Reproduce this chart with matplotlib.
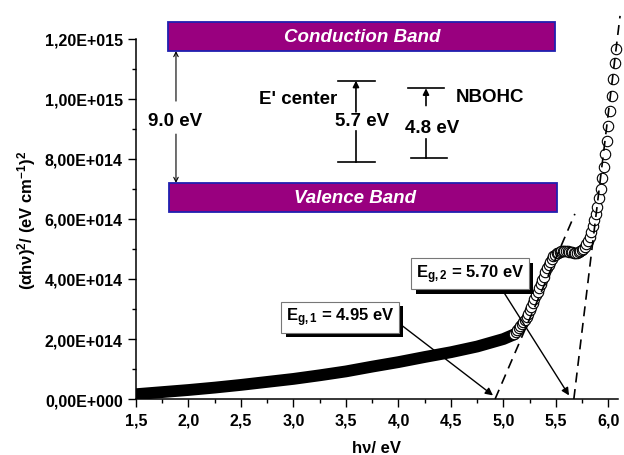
import numpy as np
import matplotlib
matplotlib.use('Agg')
import matplotlib.pyplot as plt
import matplotlib.ticker as mticker
from matplotlib.patches import Rectangle
import matplotlib.patheffects as pe

# ── fonts (Arial-like, bold, Origin style)
plt.rcParams['font.family'] = ['Liberation Sans', 'DejaVu Sans']
plt.rcParams['font.weight'] = 'bold'
plt.rcParams['mathtext.fontset'] = 'custom'
plt.rcParams['mathtext.rm'] = 'Liberation Sans:bold'
plt.rcParams['mathtext.bf'] = 'Liberation Sans:bold'
plt.rcParams['mathtext.it'] = 'Liberation Sans:bold:italic'
plt.rcParams['mathtext.default'] = 'bf'

# ─────────────────────────────────────────
# DATA
# ─────────────────────────────────────────
# dense low-energy part: markers overlap into a solid band
band_x = [1.50, 1.75, 2.00, 2.25, 2.50, 2.75, 3.00, 3.25, 3.50, 3.75,
          4.00, 4.25, 4.50, 4.75, 5.00, 5.10]
band_y = [1.6, 2.3, 3.0, 3.8, 4.7, 5.7, 6.7, 7.9, 9.2, 10.8,
          12.3, 14.0, 15.6, 17.5, 20.0, 21.5]          # x 1e13

# absorption edge: individual open circles
edge_x = [5.100, 5.115, 5.130, 5.145, 5.160, 5.175, 5.190, 5.205, 5.220, 5.235,
          5.250, 5.265, 5.280, 5.295, 5.310, 5.325, 5.340, 5.355, 5.370, 5.385,
          5.400, 5.415, 5.430, 5.445, 5.460, 5.475, 5.490, 5.505, 5.520, 5.535,
          5.550, 5.565, 5.580, 5.595, 5.610, 5.625, 5.640, 5.655, 5.670, 5.685,
          5.700, 5.715, 5.730, 5.745, 5.760, 5.775, 5.790, 5.805, 5.820, 5.835,
          5.850, 5.865, 5.880, 5.895, 5.910, 5.925, 5.940, 5.955, 5.970, 5.985,
          6.000, 6.015, 6.030, 6.045, 6.060, 6.075]
edge_y = [2.17, 2.25, 2.30, 2.36, 2.42, 2.49, 2.56, 2.65, 2.75, 2.85,
          2.96, 3.08, 3.20, 3.32, 3.45, 3.57, 3.70, 3.82, 3.95, 4.08,
          4.22, 4.35, 4.48, 4.58, 4.68, 4.75, 4.80, 4.85, 4.88, 4.90,
          4.92, 4.93, 4.93, 4.93, 4.92, 4.91, 4.90, 4.89, 4.88, 4.88,
          4.88, 4.89, 4.92, 4.96, 5.00, 5.07, 5.15, 5.26, 5.40, 5.58,
          5.78, 5.95, 6.15, 6.40, 6.70, 7.00, 7.35, 7.72, 8.15, 8.60,
          9.10, 9.60, 10.10, 10.65, 11.20, 11.65]        # x 1e14

# tangent lines (Tauc extrapolation)
fit1_x = [4.92, 5.68]
fit1_y = [0.0, 6.17e14]
fit2_x = [5.67, 6.11]
fit2_y = [0.0, 1.277e15]

# band gap annotations
gap_labels = [r'E$_{g,1}$ = 4.95 eV', r'E$_{g,2}$ = 5.70 eV']
gap_values = [4.90, 5.624]

xticks = [1.5, 2.0, 2.5, 3.0, 3.5, 4.0, 4.5, 5.0, 5.5, 6.0]
yticks = [0, 2e14, 4e14, 6e14, 8e14, 1.0e15, 1.2e15]

# ─────────────────────────────────────────
# PLOT
# ─────────────────────────────────────────
fig = plt.figure(figsize=(6.24, 4.56), dpi=100)
ax = fig.add_axes([0.2179, 0.1228, 0.7724, 0.7895])

ax.plot(band_x, np.array(band_y) * 1e13, color='black', lw=8.5,
        solid_capstyle='round', zorder=3)
ax.plot(edge_x, np.array(edge_y) * 1e14, ls='none', marker='o', ms=7.5,
        mfc='white', mec='black', mew=0.8, clip_on=False, zorder=4)

dash = (0, (6, 4))
ax.plot(fit1_x, fit1_y, color='black', lw=1.2, ls=dash, clip_on=False, zorder=5)
ax.plot(fit2_x, fit2_y, color='black', lw=1.2, ls=dash, clip_on=False, zorder=5)

# ── axes styling
ax.set_xlim(1.5, 6.09)
ax.set_ylim(0, 1.2e15)
ax.spines['top'].set_visible(False)
ax.spines['right'].set_visible(False)
for s in ('left', 'bottom'):
    ax.spines[s].set_linewidth(1.1)

ax.set_xticks(xticks)
ax.set_yticks(yticks)
ax.xaxis.set_minor_locator(mticker.MultipleLocator(0.25))
ax.yaxis.set_minor_locator(mticker.MultipleLocator(1e14))
ax.xaxis.set_major_formatter(mticker.FuncFormatter(lambda v, p: f'{v:.1f}'.replace('.', ',')))


def sci_comma(v, pos):
    if v == 0:
        return '0,00E+000'
    exp = int(np.floor(np.log10(abs(v))))
    man = v / 10 ** exp
    return f'{man:.2f}'.replace('.', ',') + f'E+{exp:03d}'


ax.yaxis.set_major_formatter(mticker.FuncFormatter(sci_comma))
ax.tick_params(which='major', direction='out', length=6, width=1.0,
               labelsize=11.5, pad=3.5)
ax.tick_params(which='minor', direction='out', length=3, width=1.0)

ax.set_xlabel('hν/ eV', fontsize=12, fontweight='bold', labelpad=9)
ax.set_ylabel('(αhν)$^{2}$/ (eV cm$^{-1}$)$^{2}$', fontsize=12,
              fontweight='bold', labelpad=5)

# ── band diagram inset
purple = '#99007f'
blue = '#2020b0'
ax.add_patch(Rectangle((1.805, 1.16e15), 5.49 - 1.805, 1.257e15 - 1.16e15,
                       facecolor=purple, edgecolor=blue, lw=1.3, clip_on=False, zorder=6))
ax.add_patch(Rectangle((1.817, 6.23e14), 5.506 - 1.817, 7.2e14 - 6.23e14,
                       facecolor=purple, edgecolor=blue, lw=1.3, clip_on=False, zorder=6))
ax.text(3.657, 1.2085e15, 'Conduction Band', color='white', fontsize=13.5,
        fontweight='bold', style='italic', ha='center', va='center', zorder=7)
ax.text(3.586, 6.715e14, 'Valence Band', color='white', fontsize=13.5,
        fontweight='bold', style='italic', ha='center', va='center', zorder=7)

# 9.0 eV gap arrow
arr_open = dict(arrowstyle='->', lw=0.8, color='black', shrinkA=0, shrinkB=0,
                mutation_scale=8)
ax.annotate('', xy=(1.881, 1.16e15), xytext=(1.881, 9.93e14), arrowprops=arr_open)
ax.annotate('', xy=(1.881, 7.2e14), xytext=(1.881, 8.83e14), arrowprops=arr_open)
ax.text(1.871, 9.28e14, '9.0 eV', fontsize=13.5, ha='center', va='center')

# defect levels
arr_fill = dict(arrowstyle='-|>', lw=1.2, color='black', shrinkA=0, shrinkB=0,
                mutation_scale=9)
# E' center
ax.plot([3.427, 3.776], [1.061e15, 1.061e15], color='black', lw=1.2)
ax.plot([3.427, 3.776], [7.89e14, 7.89e14], color='black', lw=1.2)
ax.plot([3.595, 3.595], [7.89e14, 8.94e14], color='black', lw=1.2)
ax.annotate('', xy=(3.595, 1.061e15), xytext=(3.595, 9.57e14), arrowprops=arr_fill)
ax.text(3.657, 9.28e14, '5.7 eV', fontsize=13.5, ha='center', va='center')
ax.text(3.043, 1.0017e15, "E' center", fontsize=13.5, ha='center', va='center')
# NBOHC
ax.plot([4.088, 4.433], [1.0357e15, 1.0357e15], color='black', lw=1.2)
ax.plot([4.119, 4.459], [8.03e14, 8.03e14], color='black', lw=1.2)
ax.plot([4.262, 4.262], [8.03e14, 8.67e14], color='black', lw=1.2)
ax.annotate('', xy=(4.262, 1.0357e15), xytext=(4.262, 9.78e14), arrowprops=arr_fill)
ax.text(4.316, 9.06e14, '4.8 eV', fontsize=13.5, ha='center', va='center')
ax.text(4.867, 1.008e15, 'NBOHC', fontsize=13.5, ha='center', va='center')

# ── band gap boxes with drop shadow
box_pos = [(3.443, 2.73e14), (4.681, 4.18e14)]
arrow_start = [(4.014, 2.5e14), (4.995, 3.6e14)]
for lab, val, pos, st in zip(gap_labels, gap_values, box_pos, arrow_start):
    ax.annotate('', xy=(val, 1.2e13), xytext=st,
                arrowprops=dict(arrowstyle='-|>', lw=1.0, color='black',
                                shrinkA=0, shrinkB=0, mutation_scale=11),
                zorder=8)
    t = ax.text(pos[0], pos[1], lab, fontsize=12, ha='center', va='center',
                zorder=9,
                bbox=dict(boxstyle='square,pad=0.25', facecolor='white',
                          edgecolor='#777777', lw=0.8))
    t.get_bbox_patch().set_path_effects([
        pe.SimplePatchShadow(offset=(3.5, -3.5), shadow_rgbFace='black', alpha=1.0),
        pe.Normal()])

fig.savefig('out.png', dpi=100)
